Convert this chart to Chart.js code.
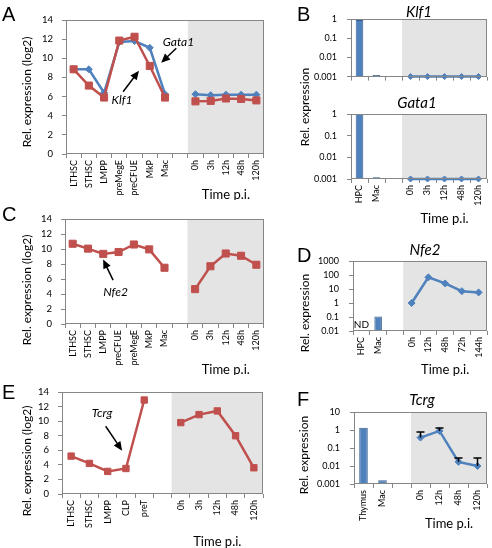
<!DOCTYPE html>
<html>
<head>
<meta charset="utf-8">
<script src="https://cdn.jsdelivr.net/npm/chart.js@4.4.1/dist/chart.umd.min.js"></script>
<style>
body{margin:0;background:#fff}
#fig{position:relative;width:492px;height:548px;overflow:hidden;font-family:Lato,"Open Sans",sans-serif;color:#000}
#fig canvas{position:absolute}
.letter{position:absolute;font:20px "Liberation Sans",Arial,sans-serif;line-height:20px}
.gene{position:absolute;font-style:italic;font-size:15px;white-space:nowrap;transform:translate(-50%,-50%)}
.ytitle{position:absolute;font-size:12px;white-space:nowrap;transform:translate(-50%,-50%) rotate(-90deg)}
</style>
</head>
<body>
<div id="fig">
  <canvas id="cA" width="270" height="200" style="left:0;top:0"></canvas>
  <canvas id="cB1" width="242" height="92" style="left:250px;top:0"></canvas>
  <canvas id="cB2" width="242" height="130" style="left:250px;top:95px"></canvas>
  <canvas id="cC" width="270" height="175" style="left:0;top:200px"></canvas>
  <canvas id="cD" width="242" height="140" style="left:250px;top:240px"></canvas>
  <canvas id="cE" width="270" height="173" style="left:0;top:375px"></canvas>
  <canvas id="cF" width="242" height="150" style="left:250px;top:390px"></canvas>

  <div class="letter" style="left:2px;top:4px">A</div>
  <div class="letter" style="left:297px;top:4px">B</div>
  <div class="letter" style="left:2px;top:204px">C</div>
  <div class="letter" style="left:297px;top:245px">D</div>
  <div class="letter" style="left:2px;top:382px">E</div>
  <div class="letter" style="left:297px;top:389px">F</div>

  <div class="gene" style="left:419px;top:11px">Klf1</div>
  <div class="gene" style="left:417px;top:102px">Gata1</div>
  <div class="gene" style="left:425px;top:249px">Nfe2</div>
  <div class="gene" style="left:422px;top:399px">Tcrg</div>

  <div class="ytitle" style="left:26px;top:92px">Rel. expression (log2)</div>
  <div class="ytitle" style="left:26px;top:290px">Rel. expression (log2)</div>
  <div class="ytitle" style="left:26px;top:461px">Rel. expression (log2)</div>
  <div class="ytitle" style="left:304px;top:107px">Rel. expression</div>
  <div class="ytitle" style="left:304px;top:313px">Rel. expression</div>
  <div class="ytitle" style="left:303px;top:455px">Rel. expression</div>
</div>

<script>
// A - Klf1 / Gata1, log2 expression
const labelsA = ['LTHSC', 'STHSC', 'LMPP', 'preMegE', 'preCFUE', 'MkP', 'Mac', '', '0h', '3h', '12h', '48h', '120h'];
const gata1A = [8.85, 8.85, 6.4, 11.7, 11.8, 11.1, 6.25, null, 6.25, 6.15, 6.2, 6.2, 6.2];
const klf1A = [8.85, 7.15, 5.9, 11.85, 12.25, 9.2, 5.9, null, 5.5, 5.55, 5.8, 5.75, 5.6];

// B - Klf1 and Gata1, log scale
const labelsB = ['HPC', 'Mac', '', '0h', '3h', '12h', '48h', '120h'];
const klf1Bars = [0.9, 0.0012, null, null, null, null, null, null];
const klf1Time = [null, null, null, 0.001, 0.001, 0.001, 0.001, 0.001];
const gata1Bars = [1, 0.0012, null, null, null, null, null, null];
const gata1Time = [null, null, null, 0.001, 0.001, 0.001, 0.001, 0.001];
const ticksB = [0.001, 0.01, 0.1, 1];

// C - Nfe2, log2
const labelsC = ['LTHSC', 'STHSC', 'LMPP', 'preCFUE', 'preMegE', 'MkP', 'Mac', '', '0h', '3h', '12h', '48h', '120h'];
const nfe2C = [10.7, 10.05, 9.35, 9.6, 10.6, 9.95, 7.5, null, 4.65, 7.7, 9.4, 9.1, 7.9];

// D - Nfe2, log scale (HPC not detected)
const labelsD = ['HPC', 'Mac', '', '0h', '12h', '48h', '72h', '144h'];
const nfe2Bars = [null, 0.11, null, null, null, null, null, null];
const nfe2Time = [null, null, null, 1, 68, 25, 7, 5.7];
const ticksD = [0.01, 0.1, 1, 10, 100, 1000];

// E - Tcrg, log2
const labelsE = ['LTHSC', 'STHSC', 'LMPP', 'CLP', 'preT', '', '0h', '3h', '12h', '48h', '120h'];
const tcrgE = [5.2, 4.2, 3.1, 3.5, 12.9, null, 9.8, 10.9, 11.4, 8.0, 3.6];

// F - Tcrg, log scale, upper error bars
const labelsF = ['Thymus', 'Mac', '', '0h', '12h', '48h', '120h'];
const tcrgBars = [1.35, 0.0016, null, null, null, null, null];
const tcrgTime = [null, null, null, 0.38, 0.89, 0.017, 0.01];
const tcrgErrHi = [null, null, null, 0.78, 1.3, 0.028, 0.028];
const ticksF = [0.001, 0.01, 0.1, 1, 10];

const RED = '#c0504d', BLUE = '#4f81bd', BAR_EDGE = '#385d8a';
const AXIS = '#868686', SHADE = '#e4e4e4', INK = '#000';
const FONT = 'Lato, "Open Sans", sans-serif';
Chart.defaults.font.family = FONT;
Chart.defaults.color = INK;

// grey time-course band, plot frame, arrows, notes, error bars
const decor = {
  id: 'decor',
  beforeDraw(chart, args, o) {
    if (o.shadeFrom == null) return;
    const {ctx, chartArea: a, scales: {x}} = chart;
    const sx = (x.getPixelForValue(o.shadeFrom - 1) + x.getPixelForValue(o.shadeFrom)) / 2;
    ctx.save();
    ctx.fillStyle = SHADE;
    ctx.fillRect(sx, a.top, a.right - sx, a.bottom - a.top);
    ctx.restore();
  },
  afterDraw(chart, args, o) {
    const {ctx, chartArea: a, scales: {x, y}} = chart;
    ctx.save();
    ctx.strokeStyle = AXIS;
    ctx.lineWidth = 1;
    ctx.strokeRect(Math.round(a.left) + 0.5, Math.round(a.top) + 0.5,
      Math.round(a.right - a.left) - 1, Math.round(a.bottom - a.top) - 1);

    if (o.errHi) {
      ctx.strokeStyle = INK;
      ctx.lineWidth = 1.5;
      o.errHi.forEach((v, i) => {
        if (v == null) return;
        const px = x.getPixelForValue(i);
        const p0 = y.getPixelForValue(o.errBase[i]), p1 = y.getPixelForValue(v);
        ctx.beginPath();
        ctx.moveTo(px, p0); ctx.lineTo(px, p1);
        ctx.moveTo(px - 4, p1); ctx.lineTo(px + 4, p1);
        ctx.stroke();
      });
    }

    ctx.fillStyle = INK;
    ctx.strokeStyle = INK;
    (o.arrows || []).forEach(([f, t]) => {
      const x0 = x.getPixelForValue(f[0]), y0 = y.getPixelForValue(f[1]);
      const x1 = x.getPixelForValue(t[0]), y1 = y.getPixelForValue(t[1]);
      const c = Math.cos(Math.atan2(y1 - y0, x1 - x0)), s = Math.sin(Math.atan2(y1 - y0, x1 - x0));
      ctx.lineWidth = 1.5;
      ctx.beginPath();
      ctx.moveTo(x0, y0);
      ctx.lineTo(x1 - 6 * c, y1 - 6 * s);
      ctx.stroke();
      ctx.beginPath();
      ctx.moveTo(x1, y1);
      ctx.lineTo(x1 - 9 * c + 4 * s, y1 - 9 * s - 4 * c);
      ctx.lineTo(x1 - 9 * c - 4 * s, y1 - 9 * s + 4 * c);
      ctx.closePath();
      ctx.fill();
    });

    ctx.textAlign = 'center';
    ctx.textBaseline = 'middle';
    (o.notes || []).forEach(n => {
      ctx.font = (n.italic ? 'italic ' : '') + n.size + 'px ' + FONT;
      ctx.fillText(n.text, x.getPixelForValue(n.at[0]), y.getPixelForValue(n.at[1]));
    });

    if (o.timeY) {
      const last = chart.data.labels.length - 1;
      const cx = (x.getPixelForValue(o.shadeFrom) + x.getPixelForValue(last)) / 2;
      ctx.font = '13px ' + FONT;
      ctx.fillText('Time p.i.', cx, o.timeY);
    }
    ctx.restore();
  }
};

function xAxis(h, show) {
  return {
    offset: true,
    grid: {offset: true, drawOnChartArea: false, drawTicks: true, tickLength: 4, color: AXIS},
    border: {display: false},
    ticks: {display: show, autoSkip: false, minRotation: 90, maxRotation: 90, padding: 2, font: {size: 9}},
    afterFit: s => { s.height = h; }
  };
}

function yLin(w) {
  return {
    min: 0, max: 14,
    grid: {drawOnChartArea: false, tickLength: 4, color: AXIS},
    border: {display: false},
    ticks: {stepSize: 2, padding: 9, font: {size: 9.5}},
    afterFit: s => { s.width = w; }
  };
}

function yLog(w, vals) {
  return {
    type: 'logarithmic', min: vals[0], max: vals[vals.length - 1],
    grid: {drawOnChartArea: false, tickLength: 4, color: AXIS},
    border: {display: false},
    ticks: {padding: 10, font: {size: 9}, callback: v => String(v)},
    afterBuildTicks: s => { s.ticks = vals.map(v => ({value: v})); },
    afterFit: s => { s.width = w; }
  };
}

function lineSet(data, color, style, r) {
  return {type: 'line', data, borderColor: color, backgroundColor: color, borderWidth: 2.5,
    pointStyle: style, pointRadius: r, pointBorderWidth: 1, tension: 0, clip: false};
}
function barSet(data) {
  return {type: 'bar', data, backgroundColor: BLUE, borderColor: BAR_EDGE, borderWidth: 1,
    barPercentage: 0.45, categoryPercentage: 1};
}

function make(id, labels, datasets, pad, xs, ys, deco) {
  return new Chart(document.getElementById(id), {
    type: 'bar',
    data: {labels, datasets},
    options: {
      responsive: false, animation: false, devicePixelRatio: 1,
      layout: {padding: pad},
      plugins: {legend: {display: false}, tooltip: {enabled: false}, decor: deco},
      scales: {x: xs, y: ys}
    },
    plugins: [decor]
  });
}

// red first so it sits on top of the blue line
make('cA', labelsA,
  [lineSet(klf1A, RED, 'rect', 5), lineSet(gata1A, BLUE, 'rectRot', 3.5)],
  {top: 20, right: 5}, xAxis(46, true), yLin(66),
  {shadeFrom: 8, timeY: 195,
   arrows: [[[6.74, 11.04], [5.75, 9.54]], [[3.25, 6.5], [4.29, 8.7]]],
   notes: [{text: 'Gata1', at: [6.88, 11.7], italic: true, size: 12},
           {text: 'Klf1', at: [3.18, 5.64], italic: true, size: 12}]});

make('cB1', labelsB,
  [barSet(klf1Bars), lineSet(klf1Time, BLUE, 'rectRot', 3)],
  {top: 19, right: 5}, xAxis(5, false), yLog(101, ticksB),
  {shadeFrom: 3});

make('cB2', labelsB,
  [barSet(gata1Bars), lineSet(gata1Time, BLUE, 'rectRot', 3)],
  {top: 19, right: 5}, xAxis(46, true), yLog(101, ticksB),
  {shadeFrom: 3, timeY: 124});

make('cC', labelsC,
  [lineSet(nfe2C, RED, 'rect', 5)],
  {top: 19, right: 5}, xAxis(51, true), yLin(65),
  {shadeFrom: 8, timeY: 170,
   arrows: [[[2.64, 5.85], [1.99, 8.6]]],
   notes: [{text: 'Nfe2', at: [2.8, 4.3], italic: true, size: 12}]});

make('cD', labelsD,
  [barSet(nfe2Bars), lineSet(nfe2Time, BLUE, 'rectRot', 3.5)],
  {top: 21, right: 3}, xAxis(49, true), yLog(103, ticksD),
  {shadeFrom: 3, timeY: 130,
   notes: [{text: 'ND', at: [0, 0.03], italic: false, size: 10}]});

make('cE', labelsE,
  [lineSet(tcrgE, RED, 'rect', 4.5)],
  {top: 17, right: 7}, xAxis(54, true), yLin(62),
  {shadeFrom: 6, timeY: 167,
   arrows: [[[1.89, 9.3], [2.79, 5.95]]],
   notes: [{text: 'Tcrg', at: [1.69, 11.05], italic: true, size: 12}]});

make('cF', labelsF,
  [barSet(tcrgBars), lineSet(tcrgTime, BLUE, 'rectRot', 3.5)],
  {top: 22, right: 3}, xAxis(56, true), yLog(104, ticksF),
  {shadeFrom: 3, timeY: 134, errHi: tcrgErrHi, errBase: tcrgTime});
</script>
</body>
</html>
